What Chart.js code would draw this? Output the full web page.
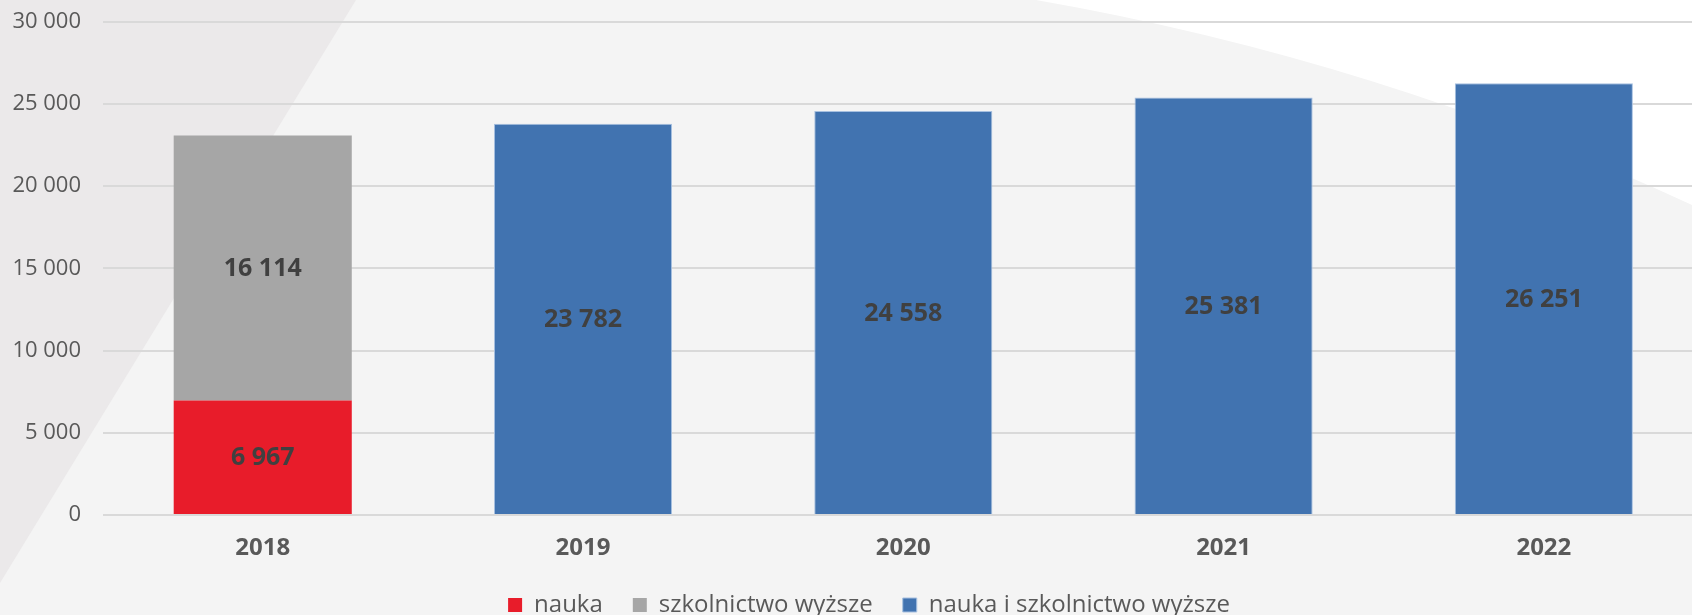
<!DOCTYPE html>
<html>
<head>
<meta charset="utf-8">
<script src="https://cdn.jsdelivr.net/npm/chart.js@4.4.1/dist/chart.umd.min.js"></script>
<style>
	html,
	body {
		margin: 0;
		padding: 0;
		overflow: hidden;
		background: #f4f4f4;
	}
	/* plot runs a little past the right edge, like in the source picture */
	#wrapper-chart {
		width: 1704px;
		height: 627px;
	}
</style>
</head>
<body>
<div id="wrapper-chart"><canvas id="bar-chart"></canvas></div>
<script>
const lsYear = ["2018", "2019", "2020", "2021", "2022"];

const nauka = [6967, null, null, null, null];
const szkolnictwo = [16114, null, null, null, null];
const naukaISzkolnictwo = [null, 23782, 24558, 25381, 26251];

const yTicks = [0, 5000, 10000, 15000, 20000, 25000, 30000];

const fmt = (v) => String(v).replace(/\B(?=(\d{3})+(?!\d))/g, " ");

// page decoration behind the chart
const backgroundPlugin = {
	id: "background",
	beforeDraw(chart) {
		let ctx = chart.ctx;
		let w = chart.width;
		let h = chart.height;
		ctx.save();
		ctx.fillStyle = "#f4f4f4";
		ctx.fillRect(0, 0, w, h);

		ctx.fillStyle = "#ebe9ea";
		ctx.beginPath();
		ctx.moveTo(0, 0);
		ctx.lineTo(356, 0);
		ctx.lineTo(0, 583);
		ctx.closePath();
		ctx.fill();

		ctx.fillStyle = "#ffffff";
		ctx.beginPath();
		ctx.moveTo(1036, 0);
		ctx.quadraticCurveTo(1380, 60, 1692, 205);
		ctx.lineTo(w, 211);
		ctx.lineTo(w, 0);
		ctx.closePath();
		ctx.fill();
		ctx.restore();
	},
};

// values in the middle of each bar segment
const valueLabelPlugin = {
	id: "valueLabels",
	afterDatasetsDraw(chart) {
		let ctx = chart.ctx;
		ctx.save();
		ctx.font = "bold 25px 'Open Sans'";
		ctx.fillStyle = "#404040";
		ctx.textAlign = "center";
		ctx.textBaseline = "middle";
		chart.data.datasets.forEach((ds, i) => {
			let meta = chart.getDatasetMeta(i);
			meta.data.forEach((bar, idx) => {
				let v = ds.data[idx];
				if (v === null || v === undefined) return;
				ctx.fillText(fmt(v), bar.x, (bar.y + bar.base) / 2 + 1);
			});
		});
		ctx.restore();
	},
};

// legend sits a bit right of the canvas centre in the source
const legendShiftPlugin = {
	id: "legendShift",
	afterLayout(chart) {
		chart.legend.left += 14;
		chart.legend.right += 14;
	},
};

let ctx = document.getElementById("bar-chart").getContext("2d");

new Chart(ctx, {
	type: "bar",
	data: {
		labels: lsYear,
		datasets: [
			{
				label: "nauka",
				data: nauka,
				backgroundColor: "#e81c2a",
			},
			{
				label: "szkolnictwo wyższe",
				data: szkolnictwo,
				backgroundColor: "#a6a6a6",
			},
			{
				label: "nauka i szkolnictwo wyższe",
				data: naukaISzkolnictwo,
				backgroundColor: "#4173b0",
				borderColor: "#a7c0e0",
				borderWidth: 1,
			},
		],
	},
	options: {
		responsive: true,
		maintainAspectRatio: false,
		animation: false,
		events: [],
		barPercentage: 0.556,
		categoryPercentage: 1,
		layout: {
			padding: { top: 21.6, left: 6, right: 0, bottom: 0 },
		},
		scales: {
			x: {
				stacked: true,
				grid: { display: false, drawTicks: false },
				border: { display: false },
				ticks: {
					color: "#595959",
					padding: 19,
					font: { family: "'Open Sans'", size: 24, weight: "bold" },
				},
				afterFit: (scale) => {
					scale.height = 48;
				},
			},
			y: {
				stacked: true,
				min: 0,
				max: 30000,
				border: { display: false },
				grid: {
					color: "#d9d9d9",
					lineWidth: 2,
					drawTicks: false,
				},
				ticks: {
					color: "#595959",
					padding: 21.6,
					font: { family: "'Open Sans'", size: 22 },
					callback: (v) => fmt(v),
				},
				afterBuildTicks: (scale) => {
					scale.ticks = yTicks.map((v) => ({ value: v }));
				},
				afterFit: (scale) => {
					scale.width = 96.6;
					scale.paddingTop = 0;
					scale.paddingBottom = 0;
				},
			},
		},
		plugins: {
			legend: {
				position: "bottom",
				labels: {
					boxWidth: 14,
					boxHeight: 14,
					padding: 30,
					color: "#595959",
					font: { family: "'Open Sans'", size: 24 },
				},
			},
			tooltip: { enabled: false },
		},
	},
	plugins: [backgroundPlugin, valueLabelPlugin, legendShiftPlugin],
});
</script>
</body>
</html>
